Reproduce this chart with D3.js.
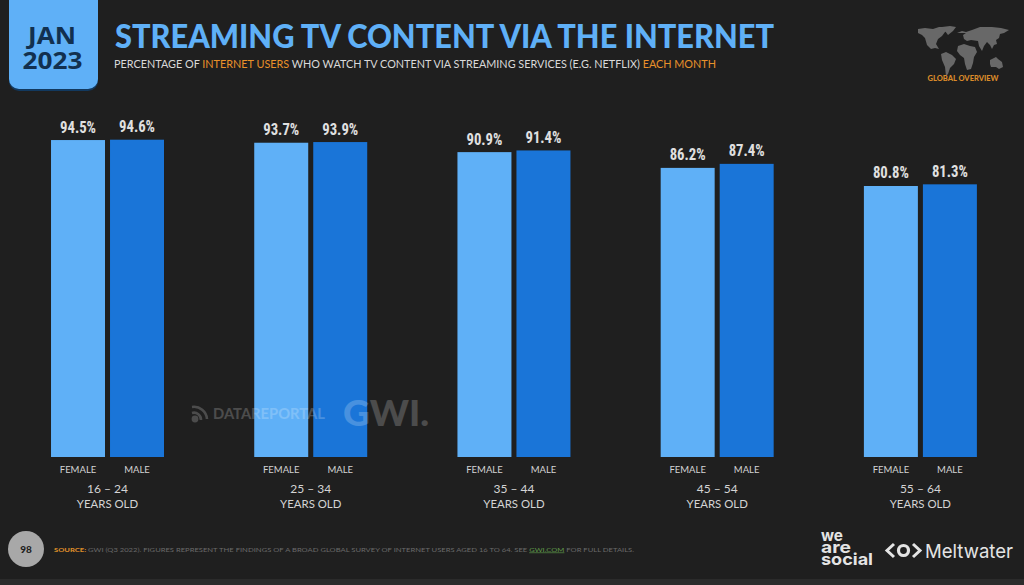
<!DOCTYPE html>
<html><head><meta charset="utf-8">
<script src="https://cdn.jsdelivr.net/npm/d3@7"></script>
<style>html,body{margin:0;padding:0;background:#1f1f1f;overflow:hidden}svg{display:block}</style>
</head><body><svg id="c" width="1024" height="585"></svg>
<script>
const ages = ["16 – 24","25 – 34","35 – 44","45 – 54","55 – 64"];
const genders = ["FEMALE","MALE"];
const femaleValues = [94.5,93.7,90.9,86.2,80.8];
const maleValues = [94.6,93.9,91.4,87.4,81.3];
const ageSuffix = "YEARS OLD";

const svg = d3.select("#c");
const sans = "'Lato','Open Sans',sans-serif";
const narrow = "'Liberation Sans Narrow','Roboto Condensed','Liberation Sans',sans-serif";
const LIGHT="#5fb0f7", DARK="#1a75d8", BG="#1f1f1f";

svg.append("rect").attr("width",1024).attr("height",585).attr("fill",BG);
svg.append("rect").attr("y",579).attr("width",1024).attr("height",6).attr("fill","#2b2b2b");

svg.append("rect").attr("x",9).attr("y",-12).attr("width",89).attr("height",103).attr("rx",10).attr("fill","#12395f");
svg.append("rect").attr("x",9).attr("y",-12).attr("width",89).attr("height",101).attr("rx",10).attr("fill",LIGHT);
const txt=(x,y,s,size,fill,o={})=>{const t=svg.append("text").attr("x",x).attr("y",y).text(s)
  .attr("font-size",size).attr("fill",fill).attr("font-family",o.family||sans).attr("font-weight",o.weight||400)
  .attr("text-anchor",o.anchor||"start");
  if(o.len)t.attr("textLength",o.len).attr("lengthAdjust","spacingAndGlyphs");
  if(o.opacity)t.attr("opacity",o.opacity);return t;};
txt(52,43.5,"JAN",24,"#12304f",{anchor:"middle",weight:700,family:"'Open Sans',sans-serif",len:48});
txt(52.5,69,"2023",24,"#12304f",{anchor:"middle",weight:700,family:"'Open Sans',sans-serif",len:60});

txt(115,48,"STREAMING TV CONTENT VIA THE INTERNET",33,LIGHT,{weight:900,len:659});
const sub=svg.append("text").attr("x",114).attr("y",68).attr("font-size",11).attr("font-family",sans)
  .attr("textLength",602).attr("lengthAdjust","spacingAndGlyphs").attr("fill","#d9d9d9");
sub.append("tspan").text("PERCENTAGE OF ");
sub.append("tspan").attr("fill","#e8912a").text("INTERNET USERS");
sub.append("tspan").text(" WHO WATCH TV CONTENT VIA STREAMING SERVICES (E.G. NETFLIX) ");
sub.append("tspan").attr("fill","#e8912a").text("EACH MONTH");

// world map emblem (decorative)
const land=[
 "M918 29l7-1 8 1 6-2 8 0 2 3-4 2-3 4-4 3-2 5 3 5-4-1-4 1-4-4-2-7-3-3-4-2z",
 "M942 27l8-1 6 1-3 4-5 4-3-4z",
 "M941 54l5-2 6 3 4 4-2 5-4 4-2 6-2 2-1-9-3-7z",
 "M957 33l5-2 4 1 6-2 8-3 12 0 9 1 8 2-5 3-4 1-1 4-3 2 1 4-3 1-2 4-2-4-3-3-3 4-2 5-3-5-1-5-7-1-4 1-3-2-1-4 3-2z",
 "M958 46l6-2 6 2 5 1 2 5-3 5-1 6-2 6-4 1-2-6-1-6-4-3-3-4z",
 "M990 60l6-3 2 2 4 3 1 5-4 2-3-2-5 0-1-3z"];
svg.append("g").attr("fill","#686868").selectAll("path").data(land).join("path").attr("d",d=>d);
txt(963,80.5,"GLOBAL OVERVIEW",7,"#d98a2a",{anchor:"middle",weight:900,len:71});

// scales
const y=d3.scaleLinear().domain([0,100]).range([457,121.6]);
const x0=d3.scaleBand().domain(ages).range([5.9,1022]).paddingInner(0.444).paddingOuter(0.222);
const x1=d3.scaleBand().domain(genders).range([0,x0.bandwidth()]).paddingInner(0.085).paddingOuter(0);
const rows=ages.map((a,i)=>({age:a,vals:[{g:"FEMALE",v:femaleValues[i]},{g:"MALE",v:maleValues[i]}]}));

const groups=svg.append("g").selectAll("g").data(rows).join("g").attr("transform",d=>`translate(${x0(d.age)},0)`);
const cells=groups.selectAll("g").data(d=>d.vals).join("g");
cells.append("rect").attr("x",d=>x1(d.g)).attr("y",d=>y(d.v)).attr("width",x1.bandwidth())
  .attr("height",d=>y(0)-y(d.v)).attr("fill",d=>d.g==="FEMALE"?LIGHT:DARK);
cells.append("text").attr("x",d=>x1(d.g)+x1.bandwidth()/2).attr("y",d=>y(d.v)-7.5).attr("text-anchor","middle")
  .attr("font-family",narrow).attr("font-size",17).attr("font-weight",700).attr("fill","#e0e0e0")
  .attr("textLength",36).attr("lengthAdjust","spacingAndGlyphs").text(d=>d.v.toFixed(1)+"%");
cells.append("text").attr("x",d=>x1(d.g)+x1.bandwidth()/2).attr("y",473).attr("text-anchor","middle")
  .attr("font-family",sans).attr("font-size",9.5).attr("fill","#d4d4d4").text(d=>d.g);
groups.append("text").attr("x",x0.bandwidth()/2).attr("y",493).attr("text-anchor","middle")
  .attr("font-family",sans).attr("font-size",12).attr("fill","#d4d4d4").text(d=>d.age);
groups.append("text").attr("x",x0.bandwidth()/2).attr("y",508).attr("text-anchor","middle")
  .attr("font-family",sans).attr("font-size",11.4).attr("fill","#d4d4d4").text(ageSuffix);

// watermark over the bars
const wm=svg.append("g").attr("opacity",0.2);
wm.append("g").attr("fill","none").attr("stroke","#fff").attr("stroke-width",2.6).selectAll("path")
 .data(["M192 407a13 13 0 0 1 15 12","M192 413a7 7 0 0 1 9 7"]).join("path").attr("d",d=>d);
wm.append("circle").attr("cx",195).attr("cy",419).attr("r",3.4).attr("fill","#fff");
wm.append("text").attr("x",213).attr("y",419).attr("font-family",sans).attr("font-size",15).attr("font-weight",700).attr("fill","#fff")
 .attr("textLength",112).attr("lengthAdjust","spacingAndGlyphs").text("DATAREPORTAL");
wm.append("text").attr("x",343).attr("y",426).attr("font-family",sans).attr("font-size",36).attr("font-weight",900).attr("fill","#fff")
 .attr("textLength",86).attr("lengthAdjust","spacingAndGlyphs").text("GWI.");

// footer
svg.append("ellipse").attr("cx",26).attr("cy",549).attr("rx",18).attr("ry",18).attr("fill","#a8a8a8");
txt(26,553,"98",10,"#1f1f1f",{anchor:"middle",weight:900});
const src=svg.append("text").attr("x",54).attr("y",551.5).attr("font-size",6.4).attr("font-family",sans)
 .attr("textLength",580).attr("lengthAdjust","spacingAndGlyphs").attr("fill","#6a6a6a");
src.append("tspan").attr("fill","#d98a2a").attr("font-weight",900).text("SOURCE: ");
src.append("tspan").text("GWI (Q3 2022). FIGURES REPRESENT THE FINDINGS OF A BROAD GLOBAL SURVEY OF INTERNET USERS AGED 16 TO 64. SEE ");
src.append("tspan").attr("fill","#5f9a4a").attr("text-decoration","underline").text("GWI.COM");
src.append("tspan").text(" FOR FULL DETAILS.");

// brand logos
[["we",541,22],["are",553,30],["social",565,52]].forEach(d=>txt(821,d[1],d[0],16.5,"#e4e4e4",{weight:700,family:"'Inter',sans-serif",len:d[2]}));
svg.append("g").attr("fill","none").attr("stroke","#e4e4e4").attr("stroke-width",3)
 .selectAll("path").data(["M894 544l-7 6.5 7 6.5","M913 544l7 6.5-7 6.5"]).join("path").attr("d",d=>d);
svg.append("circle").attr("cx",903.5).attr("cy",550.5).attr("r",5).attr("fill","none").attr("stroke","#e4e4e4").attr("stroke-width",3.2);
txt(925,557.5,"Meltwater",19,"#e4e4e4",{family:"'Inter',sans-serif",len:88});
</script></body></html>
